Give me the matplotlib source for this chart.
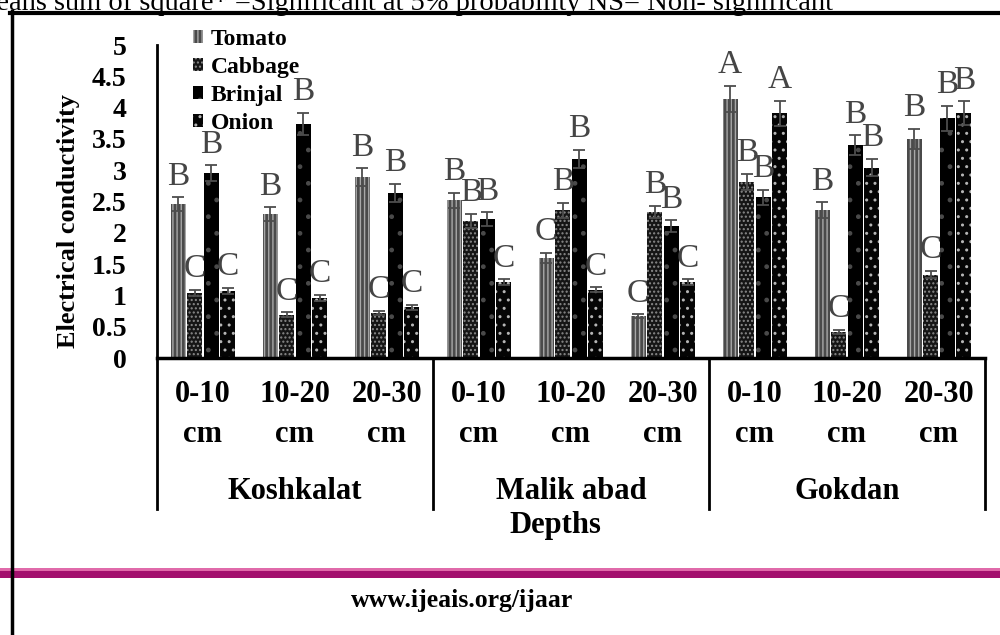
import numpy as np
import matplotlib
matplotlib.use("Agg")
import matplotlib.pyplot as plt
import matplotlib.transforms as mtransforms
from matplotlib.patches import Patch, Rectangle
from matplotlib.lines import Line2D

plt.rcParams['font.family'] = ['Liberation Serif', 'DejaVu Serif']
plt.rcParams['hatch.linewidth'] = 1.0

sites = ['Koshkalat', 'Malik abad', 'Gokdan']
depths = ['0-10', '10-20', '20-30']
crops = ['Tomato', 'Cabbage', 'Brinjal', 'Onion']

# values per site/depth: Koshkalat 0-10,10-20,20-30 | Malik abad ... | Gokdan ...
tomato = [2.46, 2.30, 2.89, 2.52, 1.60, 0.67, 4.14, 2.36, 3.50]
cabbage = [1.04, 0.69, 0.72, 2.19, 2.36, 2.33, 2.81, 0.42, 1.33]
brinjal = [2.95, 3.74, 2.64, 2.22, 3.18, 2.11, 2.57, 3.40, 3.83]
onion = [1.07, 0.96, 0.81, 1.21, 1.09, 1.21, 3.91, 3.04, 3.91]

tomato_err = [0.11, 0.11, 0.14, 0.12, 0.08, 0.03, 0.21, 0.13, 0.16]
cabbage_err = [0.05, 0.04, 0.03, 0.11, 0.12, 0.10, 0.13, 0.03, 0.06]
brinjal_err = [0.13, 0.18, 0.14, 0.11, 0.15, 0.09, 0.12, 0.16, 0.20]
onion_err = [0.05, 0.05, 0.04, 0.05, 0.04, 0.05, 0.20, 0.14, 0.19]

tomato_lab = ['B', 'B', 'B', 'B', 'C', 'C', 'A', 'B', 'B']
cabbage_lab = ['C', 'C', 'C', 'B', 'B', 'B', 'B', 'C', 'C']
brinjal_lab = ['B', 'B', 'B', 'B', 'B', 'B', 'B', 'B', 'B']
onion_lab = ['C', 'C', 'C', 'C', 'C', 'C', 'A', 'B', 'B']

series = [tomato, cabbage, brinjal, onion]
errors = [tomato_err, cabbage_err, brinjal_err, onion_err]
letters = [tomato_lab, cabbage_lab, brinjal_lab, onion_lab]

faces = ['#4a4a4a', '#151515', '#000000', '#050505']
hcols = ['#a8a8a8', '#8a8a8a', '#4a4a4a', '#b5b5b5']
hatches = ['||||', '....', '.', '..']

W, H = 1000, 635
fig = plt.figure(figsize=(10, 6.35), dpi=100)
ax = fig.add_axes([157 / W, 1 - 358 / H, 828 / W, 313 / H])

x = np.arange(9)
slot = 0.18
for k in range(4):
    xs = x + (k - 1.5) * slot
    ax.bar(xs, series[k], width=0.16, color=faces[k], hatch=hatches[k],
           edgecolor=hcols[k], linewidth=0, zorder=2)
    ax.errorbar(xs, series[k], yerr=errors[k], fmt='none', ecolor='#4d4d4d',
                capsize=4, elinewidth=1.3, capthick=1.3, zorder=3)
    for xi, v, e, lab in zip(xs, series[k], errors[k], letters[k]):
        ax.annotate(lab, (xi, v + e), xytext=(0, 4), textcoords='offset points',
                    ha='center', va='bottom', fontsize=24, color='#454545',
                    annotation_clip=False, zorder=4)

ax.set_xlim(-0.5, 8.5)
ax.set_ylim(0, 5)
ax.set_xticks([])
yt = np.arange(0, 5.01, 0.5)
ax.set_yticks(yt)
ax.set_yticklabels(['%g' % t for t in yt], fontsize=20, fontweight='bold')
ax.tick_params(axis='y', length=0, pad=22)
for s in ['top', 'right']:
    ax.spines[s].set_visible(False)
ax.spines['left'].set_linewidth(2)
ax.spines['bottom'].set_linewidth(2.5)

trans = mtransforms.blended_transform_factory(ax.transData, ax.transAxes)
for xb in [-0.5, 2.5, 5.5, 8.5]:
    ax.plot([xb, xb], [0, -0.482], transform=trans, color='black', lw=2,
            clip_on=False)
for i in range(9):
    ax.text(i, -0.118, depths[i % 3], transform=trans, ha='center', va='center',
            fontsize=22, fontweight='bold')
    ax.text(i, -0.246, 'cm', transform=trans, ha='center', va='center',
            fontsize=22, fontweight='bold')
for j, site in enumerate(sites):
    ax.text(3 * j + 1, -0.428, site, transform=trans, ha='center', va='center',
            fontsize=22, fontweight='bold')
ax.text(3.83, -0.534, 'Depths', transform=trans, ha='center', va='center',
        fontsize=22, fontweight='bold')

fig.text(68 / W, 1 - 221 / H, 'Electrical conductivity', rotation=90,
         ha='center', va='center', fontsize=19, fontweight='bold')

handles = [Patch(facecolor=faces[k], hatch=hatches[k], edgecolor=hcols[k],
                 linewidth=0) for k in range(4)]
fig.legend(handles, crops, loc='upper left', bbox_to_anchor=(181 / W, 1 - 17 / H),
           frameon=False, prop={'size': 17, 'weight': 'bold'}, borderpad=0,
           handlelength=0.45, handleheight=0.45, handletextpad=0.3,
           labelspacing=0.3)

# page decorations
fig.text(833 / W, 1 - 10 / H,
         'Means sum of square* =Significant at 5% probability NS= Non- significant',
         ha='right', va='baseline', fontsize=20.5)
fig.add_artist(Line2D([10 / W, 1], [1 - 13 / H, 1 - 13 / H], color='black', lw=3))
fig.add_artist(Line2D([12 / W, 12 / W], [1 - 11 / H, 0], color='black', lw=2.5,
                      zorder=5))
fig.add_artist(Rectangle((0, 1 - 571 / H), 1, 3 / H, transform=fig.transFigure,
                         color='#e06aaa', lw=0))
fig.add_artist(Rectangle((0, 1 - 578 / H), 1, 7 / H, transform=fig.transFigure,
                         color='#a3106e', lw=0))
fig.text(462 / W, 1 - 600 / H, 'www.ijeais.org/ijaar', ha='center', va='center',
         fontsize=18.5, fontweight='bold')

fig.savefig('out.png', dpi=100)
